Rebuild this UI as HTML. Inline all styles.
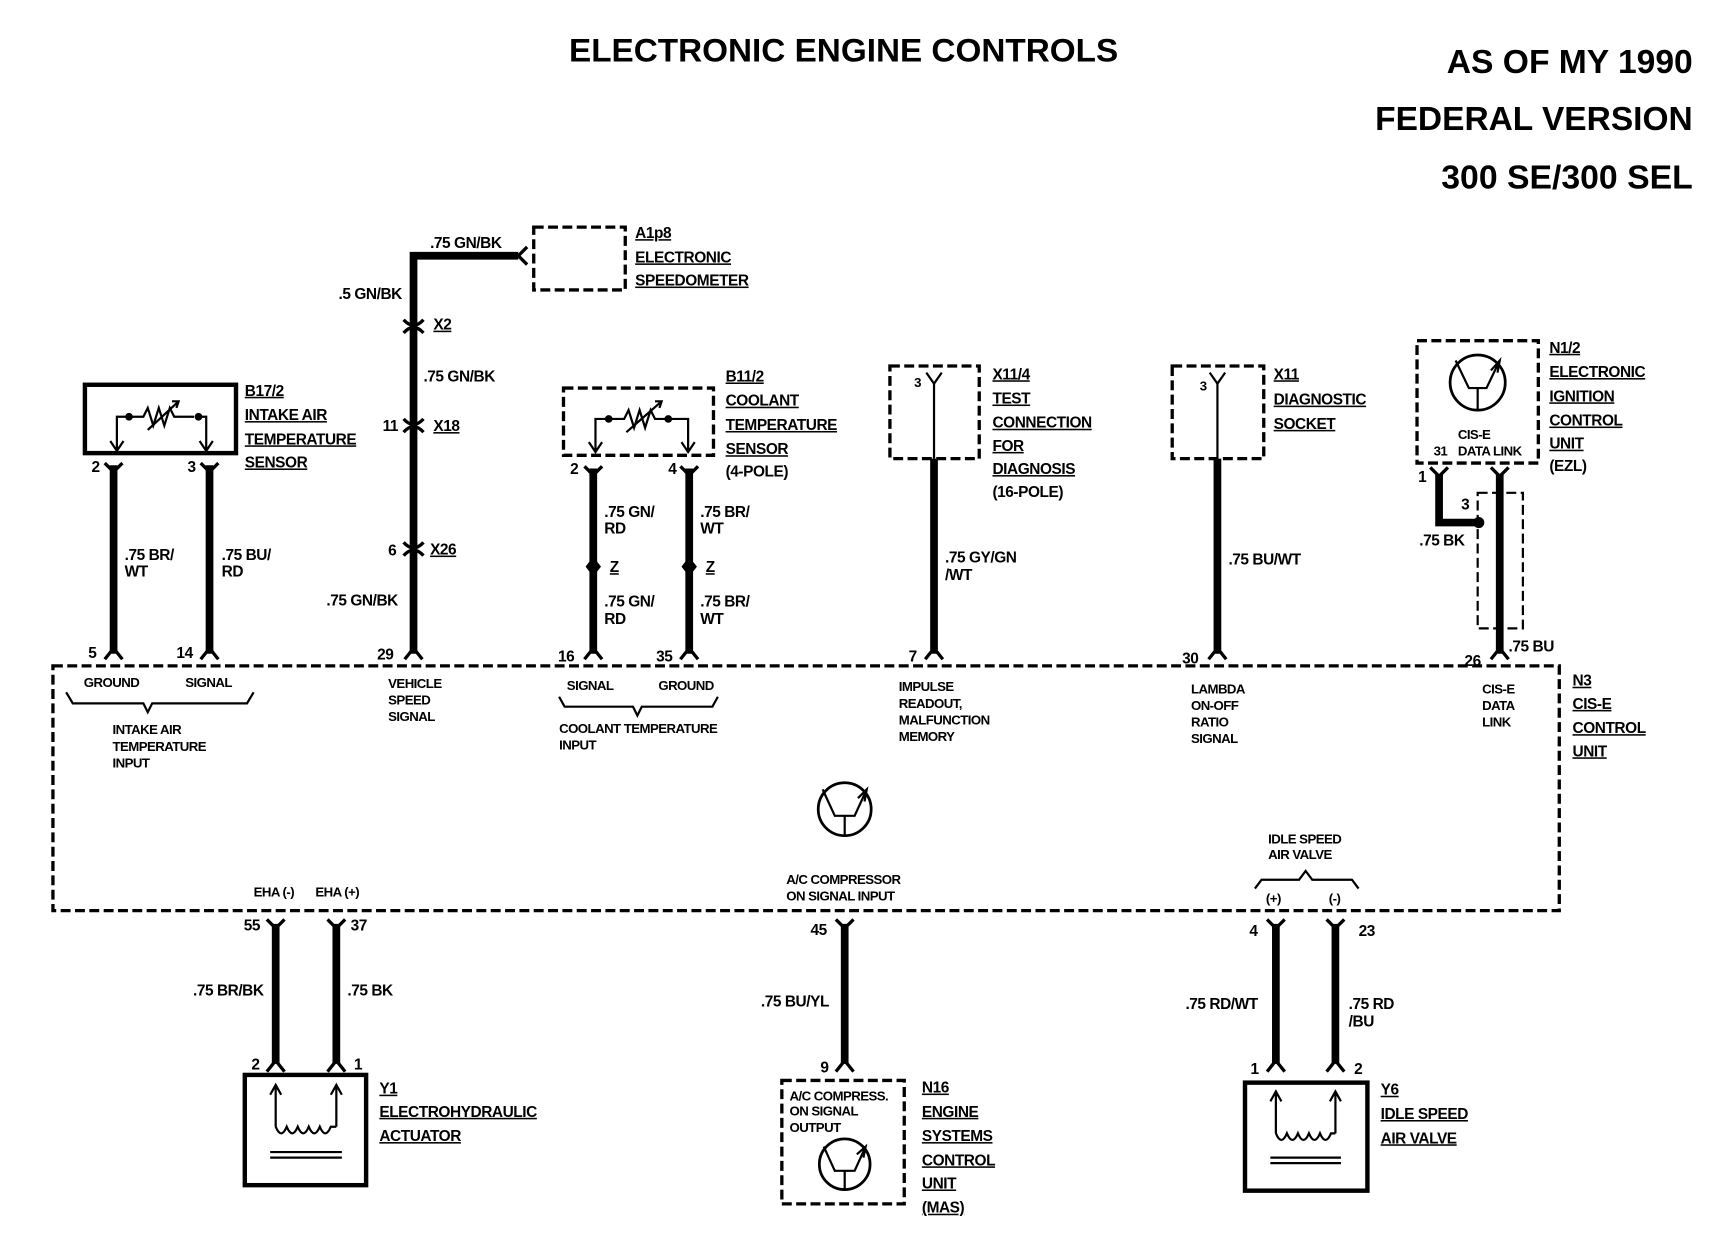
<!DOCTYPE html>
<html><head><meta charset="utf-8"><style>
html,body{margin:0;padding:0;background:#fff}
svg{display:block}
text{font-family:"Liberation Sans",sans-serif;font-weight:bold;fill:#000}
.t{font-size:14px;letter-spacing:-0.4px}
.s{font-size:12px;letter-spacing:-0.5px}
.u{text-decoration:underline}
.w{stroke:#000;stroke-width:7;fill:none}
.f{stroke:#000;stroke-width:3;fill:none}
.d{stroke:#000;stroke-width:3;fill:none;stroke-dasharray:9 4}
.b{stroke:#000;stroke-width:3;fill:none}
</style></head><body>
<svg width="1728" height="1248" viewBox="0 0 1567 1132" preserveAspectRatio="none" xmlns="http://www.w3.org/2000/svg">
<text x="516" y="56" textLength="498" lengthAdjust="spacingAndGlyphs" style="font-size:29px">ELECTRONIC ENGINE CONTROLS</text>
<text x="1312" y="66" textLength="223" lengthAdjust="spacingAndGlyphs" style="font-size:30px">AS OF MY 1990</text>
<text x="1247" y="118" textLength="288" lengthAdjust="spacingAndGlyphs" style="font-size:30px">FEDERAL VERSION</text>
<text x="1307" y="171" textLength="228" lengthAdjust="spacingAndGlyphs" style="font-size:30px">300 SE/300 SEL</text>

<!-- N3 main box -->
<rect x="48" y="604" width="1366" height="222" class="d"/>

<!-- B17/2 -->
<rect x="77" y="349" width="137" height="62" class="b" style="stroke-width:4"/>
<path class="f" style="stroke-width:2" d="M106 409 V378 H120 M180 378 H187 V409 M100 400 L106 409 L112 400 M181 400 L187 409 L193 400"/>
<circle cx="117" cy="378" r="3.5"/><circle cx="180" cy="378" r="3.5"/>
<path class="f" style="stroke-width:2" d="M120 378 L130 378 L134 370 L139 386 L144 370 L149 386 L154 370 L158 378 L176 378 M134 390 L162 364 M156 364 L162 364 L160 370"/>
<text x="222" y="359" class="t u">B17/2</text>
<text x="222" y="381" class="t u">INTAKE AIR</text>
<text x="222" y="403" class="t u">TEMPERATURE</text>
<text x="222" y="424" class="t u">SENSOR</text>
<line x1="103" y1="422" x2="103" y2="593" class="w"/>
<line x1="190" y1="422" x2="190" y2="593" class="w"/>
<path class="f" d="M95 420 L103 428 L111 420 M182 420 L190 428 L198 420 M95 598 L103 588 L111 598 M182 598 L190 588 L198 598"/>
<text x="83" y="428" class="t">2</text><text x="170" y="428" class="t">3</text>
<text x="80" y="597" class="t">5</text><text x="160" y="597" class="t">14</text>
<text x="113" y="508" class="t">.75 BR/</text><text x="113" y="523" class="t">WT</text>
<text x="201" y="508" class="t">.75 BU/</text><text x="201" y="523" class="t">RD</text>
<text x="76" y="623" class="s">GROUND</text><text x="168" y="623" class="s">SIGNAL</text>
<path class="f" style="stroke-width:2" d="M60 628 L66 638 H130 L134 646 L138 638 H224 L230 628"/>
<text x="102" y="666" class="s">INTAKE AIR</text><text x="102" y="681" class="s">TEMPERATURE</text><text x="102" y="696" class="s">INPUT</text>

<!-- speedometer column -->
<rect x="484" y="206" width="83" height="57" class="d"/>
<text x="576" y="216" class="t u">A1p8</text>
<text x="576" y="238" class="t u">ELECTRONIC</text>
<text x="576" y="259" class="t u">SPEEDOMETER</text>
<path class="w" d="M375 593 V232 H470"/>
<path class="f" d="M478 224 L470 232 L478 240"/>
<text x="390" y="225" class="t">.75 GN/BK</text>
<text x="307" y="271" class="t">.5 GN/BK</text>
<path class="f" d="M366 290 Q375 300 384 290 M366 302 Q375 292 384 302"/>
<text x="393" y="299" class="t u">X2</text>
<text x="384" y="346" class="t">.75 GN/BK</text>
<path class="f" d="M366 380 Q375 390 384 380 M366 392 Q375 382 384 392"/>
<text x="347" y="391" class="t">11</text><text x="393" y="391" class="t u">X18</text>
<path class="f" d="M366 492 Q375 502 384 492 M366 504 Q375 494 384 504"/>
<text x="352" y="504" class="t">6</text><text x="390" y="503" class="t u">X26</text>
<text x="296" y="549" class="t">.75 GN/BK</text>
<path class="f" d="M367 598 L375 588 L383 598"/>
<text x="342" y="598" class="t">29</text>
<text x="352" y="624" class="s">VEHICLE</text><text x="352" y="639" class="s">SPEED</text><text x="352" y="654" class="s">SIGNAL</text>

<!-- B11/2 -->
<rect x="511" y="352" width="136" height="61" class="d"/>
<path class="f" style="stroke-width:2" d="M540 410 V380 H552 M606 380 H624 V410 M534 401 L540 410 L546 401 M618 401 L624 410 L630 401"/>
<circle cx="552" cy="380" r="3.5"/><circle cx="606" cy="380" r="3.5"/>
<path class="f" style="stroke-width:2" d="M555 380 H566 L570 372 L575 388 L580 372 L585 388 L590 372 L594 380 H603 M568 392 L600 364 M594 364 L600 364 L598 370"/>
<text x="658" y="346" class="t u">B11/2</text>
<text x="658" y="368" class="t u">COOLANT</text>
<text x="658" y="390" class="t u">TEMPERATURE</text>
<text x="658" y="412" class="t u">SENSOR</text>
<text x="658" y="432" class="t">(4-POLE)</text>
<line x1="538" y1="425" x2="538" y2="593" class="w"/>
<line x1="625" y1="425" x2="625" y2="593" class="w"/>
<path class="f" d="M530 423 L538 431 L546 423 M617 423 L625 431 L633 423 M530 598 L538 588 L546 598 M617 598 L625 588 L633 598"/>
<path d="M538 505 L545 514 L538 523 L531 514 Z"/><path d="M625 505 L632 514 L625 523 L618 514 Z"/>
<text x="553" y="519" class="t u">Z</text><text x="640" y="519" class="t u">Z</text>
<text x="517" y="430" class="t">2</text><text x="606" y="430" class="t">4</text>
<text x="548" y="469" class="t">.75 GN/</text><text x="548" y="484" class="t">RD</text>
<text x="635" y="469" class="t">.75 BR/</text><text x="635" y="484" class="t">WT</text>
<text x="548" y="550" class="t">.75 GN/</text><text x="548" y="566" class="t">RD</text>
<text x="635" y="550" class="t">.75 BR/</text><text x="635" y="566" class="t">WT</text>
<text x="506" y="600" class="t">16</text><text x="595" y="600" class="t">35</text>
<text x="514" y="626" class="s">SIGNAL</text><text x="597" y="626" class="s">GROUND</text>
<path class="f" style="stroke-width:2" d="M507 632 L512 641 H574 L578 649 L582 641 H646 L651 632"/>
<text x="507" y="665" class="s">COOLANT TEMPERATURE</text><text x="507" y="680" class="s">INPUT</text>

<!-- X11/4 -->
<rect x="807" y="332" width="81" height="84" class="d"/>
<path class="f" style="stroke-width:2" d="M840 338 L847 348 L854 338"/>
<line x1="847" y1="348" x2="847" y2="416" stroke="#000" stroke-width="2"/>
<text x="829" y="351" class="s">3</text>
<text x="900" y="344" class="t u">X11/4</text>
<text x="900" y="366" class="t u">TEST</text>
<text x="900" y="388" class="t u">CONNECTION</text>
<text x="900" y="409" class="t u">FOR</text>
<text x="900" y="430" class="t u">DIAGNOSIS</text>
<text x="900" y="451" class="t">(16-POLE)</text>
<line x1="847" y1="416" x2="847" y2="593" class="w"/>
<path class="f" d="M839 598 L847 588 L855 598"/>
<text x="857" y="510" class="t">.75 GY/GN</text><text x="857" y="526" class="t">/WT</text>
<text x="824" y="600" class="t">7</text>
<text x="815" y="627" class="s">IMPULSE</text><text x="815" y="642" class="s">READOUT,</text><text x="815" y="657" class="s">MALFUNCTION</text><text x="815" y="672" class="s">MEMORY</text>

<!-- X11 -->
<rect x="1063" y="332" width="83" height="84" class="d"/>
<path class="f" style="stroke-width:2" d="M1097 338 L1104 348 L1111 338"/>
<line x1="1104" y1="348" x2="1104" y2="416" stroke="#000" stroke-width="2"/>
<text x="1088" y="354" class="s">3</text>
<text x="1155" y="344" class="t u">X11</text>
<text x="1155" y="367" class="t u">DIAGNOSTIC</text>
<text x="1155" y="389" class="t u">SOCKET</text>
<line x1="1104" y1="416" x2="1104" y2="593" class="w"/>
<path class="f" d="M1096 598 L1104 588 L1112 598"/>
<text x="1114" y="512" class="t">.75 BU/WT</text>
<text x="1072" y="602" class="t">30</text>
<text x="1080" y="629" class="s">LAMBDA</text><text x="1080" y="644" class="s">ON-OFF</text><text x="1080" y="659" class="s">RATIO</text><text x="1080" y="674" class="s">SIGNAL</text>

<!-- N1/2 -->
<rect x="1285" y="309" width="110" height="111" class="d"/>
<circle cx="1340" cy="347" r="25" class="b" style="stroke-width:2.5"/>
<path class="f" style="stroke-width:2" d="M1320 327 L1332 352 H1348 L1360 327 M1340 352 V372 M1352 336 L1360 327 L1358 338"/>
<text x="1322" y="398" class="s">CIS-E</text>
<text x="1300" y="413" class="s">31</text><text x="1322" y="413" class="s">DATA LINK</text>
<text x="1405" y="320" class="t u">N1/2</text>
<text x="1405" y="342" class="t u">ELECTRONIC</text>
<text x="1405" y="364" class="t u">IGNITION</text>
<text x="1405" y="386" class="t u">CONTROL</text>
<text x="1405" y="407" class="t u">UNIT</text>
<text x="1405" y="427" class="t">(EZL)</text>
<path class="f" d="M1297 424 L1305 432 L1313 424 M1352 424 L1360 432 L1368 424"/>
<path class="w" d="M1305 430 V474 H1340"/>
<circle cx="1341" cy="474" r="5"/>
<rect x="1340" y="447" width="41" height="123" class="d" style="stroke-width:2"/>
<line x1="1360" y1="430" x2="1360" y2="593" class="w"/>
<path class="f" d="M1352 598 L1360 588 L1368 598"/>
<text x="1286" y="437" class="t">1</text>
<text x="1325" y="462" class="t">3</text>
<text x="1287" y="495" class="t">.75 BK</text>
<text x="1368" y="591" class="t">.75 BU</text>
<text x="1328" y="604" class="t">26</text>
<text x="1344" y="629" class="s">CIS-E</text><text x="1344" y="644" class="s">DATA</text><text x="1344" y="659" class="s">LINK</text>
<text x="1426" y="622" class="t u">N3</text>
<text x="1426" y="643" class="t u">CIS-E</text>
<text x="1426" y="665" class="t u">CONTROL</text>
<text x="1426" y="686" class="t u">UNIT</text>

<!-- N3 centre symbol -->
<circle cx="766" cy="734" r="24" class="b" style="stroke-width:2.5"/>
<path class="f" style="stroke-width:2" d="M746 716 L757 740 H775 L786 716 M766 740 V758 M778 724 L786 716 L784 727"/>
<text x="713" y="802" class="s">A/C COMPRESSOR</text><text x="713" y="817" class="s">ON SIGNAL INPUT</text>

<text x="1150" y="765" class="s">IDLE SPEED</text><text x="1150" y="779" class="s">AIR VALVE</text>
<path class="f" style="stroke-width:2" d="M1138 806 L1144 798 H1178 L1184 790 L1190 798 H1226 L1232 806"/>
<text x="1148" y="819" class="s">(+)</text><text x="1205" y="819" class="s">(-)</text>

<text x="230" y="813" class="s">EHA (-)</text><text x="286" y="813" class="s">EHA (+)</text>

<!-- bottom wires -->
<line x1="250" y1="838" x2="250" y2="965" class="w"/>
<line x1="305" y1="838" x2="305" y2="965" class="w"/>
<line x1="766" y1="838" x2="766" y2="965" class="w"/>
<line x1="1157" y1="838" x2="1157" y2="965" class="w"/>
<line x1="1211" y1="838" x2="1211" y2="965" class="w"/>
<path class="f" d="M242 834 L250 842 L258 834 M297 834 L305 842 L313 834 M758 834 L766 842 L774 834 M1149 834 L1157 842 L1165 834 M1203 834 L1211 842 L1219 834 M242 972 L250 962 L258 972 M297 972 L305 962 L313 972 M758 972 L766 962 L774 972 M1149 972 L1157 962 L1165 972 M1203 972 L1211 962 L1219 972"/>
<text x="221" y="844" class="t">55</text><text x="318" y="844" class="t">37</text>
<text x="735" y="848" class="t">45</text>
<text x="1133" y="849" class="t">4</text><text x="1232" y="849" class="t">23</text>
<text x="175" y="903" class="t">.75 BR/BK</text><text x="315" y="903" class="t">.75 BK</text>
<text x="690" y="913" class="t">.75 BU/YL</text>
<text x="1075" y="915" class="t">.75 RD/WT</text>
<text x="1223" y="915" class="t">.75 RD</text><text x="1223" y="931" class="t">/BU</text>
<text x="228" y="970" class="t">2</text><text x="321" y="970" class="t">1</text>
<text x="744" y="973" class="t">9</text>
<text x="1134" y="974" class="t">1</text><text x="1228" y="974" class="t">2</text>

<!-- Y1 -->
<rect x="222" y="975" width="110" height="100" class="b" style="stroke-width:4"/>
<path class="f" style="stroke-width:2" d="M250 984 V1022 M305 984 V1022 M245 993 L250 984 L255 993 M300 993 L305 984 L310 993 M250 1022 Q255 1034 260 1022 Q265 1034 270 1022 Q275 1034 280 1022 Q285 1034 290 1022 Q295 1034 300 1022 L305 1022 M245 1045 H310 M245 1050 H310"/>
<text x="344" y="992" class="t u">Y1</text>
<text x="344" y="1013" class="t u">ELECTROHYDRAULIC</text>
<text x="344" y="1035" class="t u">ACTUATOR</text>

<!-- N16 -->
<rect x="709" y="980" width="111" height="112" class="d"/>
<text x="716" y="998" class="s">A/C COMPRESS.</text><text x="716" y="1012" class="s">ON SIGNAL</text><text x="716" y="1027" class="s">OUTPUT</text>
<circle cx="766" cy="1056" r="23" class="b" style="stroke-width:2.5"/>
<path class="f" style="stroke-width:2" d="M747 1040 L757 1062 H775 L785 1040 M766 1062 V1078 M777 1047 L785 1040 L783 1050"/>
<text x="836" y="991" class="t u">N16</text>
<text x="836" y="1013" class="t u">ENGINE</text>
<text x="836" y="1035" class="t u">SYSTEMS</text>
<text x="836" y="1057" class="t u">CONTROL</text>
<text x="836" y="1078" class="t u">UNIT</text>
<text x="836" y="1100" class="t u">(MAS)</text>

<!-- Y6 -->
<rect x="1129" y="982" width="111" height="98" class="b" style="stroke-width:4"/>
<path class="f" style="stroke-width:2" d="M1157 990 V1028 M1211 990 V1028 M1152 999 L1157 990 L1162 999 M1206 999 L1211 990 L1216 999 M1157 1028 Q1162 1040 1167 1028 Q1172 1040 1177 1028 Q1182 1040 1187 1028 Q1192 1040 1197 1028 Q1202 1040 1207 1028 L1211 1028 M1152 1050 H1216 M1152 1055 H1216"/>
<text x="1252" y="993" class="t u">Y6</text>
<text x="1252" y="1015" class="t u">IDLE SPEED</text>
<text x="1252" y="1037" class="t u">AIR VALVE</text>
</svg>
</body></html>
